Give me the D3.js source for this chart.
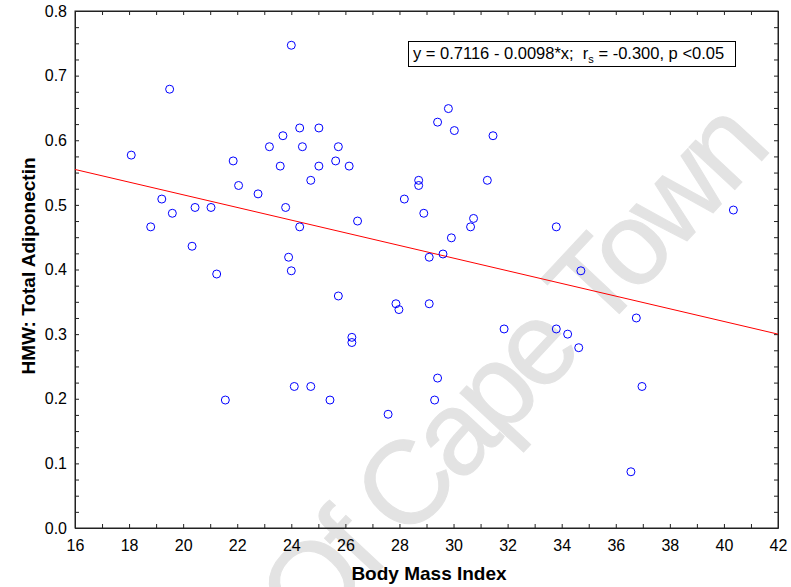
<!DOCTYPE html>
<html>
<head>
<meta charset="utf-8">
<script src="https://cdn.jsdelivr.net/npm/d3@7"></script>
<style>
  body { margin: 0; background: #fff; }
  text { font-family: "Liberation Sans", Arial, Helvetica, sans-serif; }
</style>
</head>
<body>
<div id="chart"></div>
<script>
// data
var bmi = [18.08, 18.80, 19.21, 19.50, 19.60, 20.33, 20.44, 21.03, 21.24, 21.56,
           21.85, 22.05, 22.77, 23.19, 23.59, 23.69, 23.79, 23.90, 24.00, 24.00,
           24.11, 24.31, 24.31, 24.41, 24.72, 24.72, 25.02, 25.02, 25.43, 25.64,
           25.74, 25.74, 26.14, 26.24, 26.24, 26.45, 27.58, 27.87, 27.98, 28.18,
           28.71, 28.71, 28.90, 29.10, 29.10, 29.30, 29.41, 29.41, 29.61, 29.81,
           29.92, 30.03, 30.63, 30.74, 31.25, 31.46, 31.87, 33.80, 33.80, 34.22,
           34.63, 34.71, 36.56, 36.76, 36.97, 40.35];
var hmw = [0.577, 0.466, 0.509, 0.679, 0.487, 0.436, 0.496, 0.496, 0.393, 0.198,
           0.568, 0.530, 0.517, 0.590, 0.560, 0.607, 0.496, 0.419, 0.747, 0.398,
           0.219, 0.619, 0.466, 0.590, 0.219, 0.538, 0.619, 0.560, 0.198, 0.568,
           0.590, 0.359, 0.560, 0.295, 0.287, 0.475, 0.176, 0.347, 0.338, 0.509,
           0.538, 0.530, 0.487, 0.419, 0.347, 0.198, 0.232, 0.628, 0.424, 0.649,
           0.449, 0.615, 0.466, 0.479, 0.538, 0.607, 0.308, 0.466, 0.308, 0.300,
           0.279, 0.398, 0.087, 0.325, 0.219, 0.492];

// fitted line y = a + b*x
var fitA = 0.7116;
var fitB = -0.0098;

var xTicks = [16, 18, 20, 22, 24, 26, 28, 30, 32, 34, 36, 38, 40, 42];
var yTicks = [0.0, 0.1, 0.2, 0.3, 0.4, 0.5, 0.6, 0.7, 0.8];

var W = 791, H = 587;
const margin = {top: 11, right: 13, bottom: 59, left: 75},
    width = W - margin.left - margin.right,
    height = H - margin.top - margin.bottom;

var svg = d3.select("#chart").append("svg")
    .attr("width", W)
    .attr("height", H);

// watermark
svg.append("text")
    .attr("transform", "translate(770,152) rotate(-47)")
    .attr("text-anchor", "end")
    .style("font-size", "118px")
    .style("letter-spacing", "-6px")
    .attr("fill", "#e3e3e3")
    .attr("stroke", "#e3e3e3")
    .attr("stroke-width", 1)
    .text("University Of Cape Town");

var g = svg.append("g")
    .attr("transform", "translate(" + margin.left + "," + margin.top + ")");

const x = d3.scaleLinear().domain([16, 42]).range([0, width]);
const y = d3.scaleLinear().domain([0, 0.8]).range([height, 0]);

var xMinor = d3.range(16, 42.5, 1);
var yMinor = d3.range(0, 0.8125, 0.025);

function fmtX(d) { return xTicks.indexOf(d) >= 0 ? d : ""; }
function fmtY(d) {
    var r = Math.round(d * 1000) / 1000;
    return yTicks.some(function (t) { return Math.abs(t - r) < 1e-6; }) ? d3.format(".1f")(r) : "";
}

// bottom axis
g.append("g")
    .attr("class", "xaxis")
    .attr("transform", `translate(0, ${height})`)
    .call(d3.axisBottom(x).tickValues(xMinor).tickFormat(fmtX)
        .tickSizeInner(-4).tickSizeOuter(0).tickPadding(12));

// top axis (ticks only)
g.append("g")
    .call(d3.axisTop(x).tickValues(xMinor).tickFormat("")
        .tickSizeInner(-4).tickSizeOuter(0));

// left axis
g.append("g")
    .attr("class", "yaxis")
    .call(d3.axisLeft(y).tickValues(yMinor).tickFormat(fmtY)
        .tickSizeInner(-4).tickSizeOuter(0).tickPadding(8));

// right axis (ticks only)
g.append("g")
    .attr("transform", `translate(${width}, 0)`)
    .call(d3.axisRight(y).tickValues(yMinor).tickFormat("")
        .tickSizeInner(-4).tickSizeOuter(0));

g.selectAll(".tick text")
    .style("font-size", "16px")
    .attr("fill", "#000");
g.selectAll(".tick line").attr("stroke", "#222");
g.selectAll(".domain").attr("stroke", "#222");

// frame
g.append("rect")
    .attr("width", width)
    .attr("height", height)
    .attr("fill", "none")
    .attr("stroke", "#222")
    .attr("stroke-width", 1);

// regression line
g.append("path")
    .datum(x.domain())
    .attr("d", d3.line()
        .x(function (d) { return x(d); })
        .y(function (d) { return y(fitA + fitB * d); }))
    .attr("fill", "none")
    .attr("stroke", "#ff0000")
    .attr("stroke-width", 1);

// points
g.selectAll("circle.pt")
    .data(bmi)
    .enter()
    .append("circle")
    .attr("class", "pt")
    .attr("cx", function (d) { return x(d); })
    .attr("cy", function (d, i) { return y(hmw[i]); })
    .attr("r", 4)
    .attr("fill", "none")
    .attr("stroke", "#0000ff")
    .attr("stroke-width", 1);

// equation box
svg.append("rect")
    .attr("x", 408.5)
    .attr("y", 41.5)
    .attr("width", 327)
    .attr("height", 25)
    .attr("fill", "#fff")
    .attr("stroke", "#000")
    .attr("stroke-width", 1);

var eq = svg.append("text")
    .attr("x", 413)
    .attr("y", 59)
    .style("font-size", "16.5px")
    .attr("fill", "#000")
    .attr("xml:space", "preserve");
eq.append("tspan").text("y = 0.7116 - 0.0098*x;  r");
eq.append("tspan").attr("dy", 4).style("font-size", "11px").text("s");
eq.append("tspan").attr("dy", -4).text(" = -0.300, p <0.05");

// axis titles
svg.append("text")
    .attr("x", 429)
    .attr("y", 580)
    .attr("text-anchor", "middle")
    .style("font-size", "19px")
    .style("font-weight", "bold")
    .text("Body Mass Index");

svg.append("text")
    .attr("transform", "translate(35,266) rotate(-90)")
    .attr("text-anchor", "middle")
    .style("font-size", "19px")
    .style("font-weight", "bold")
    .text("HMW: Total Adiponectin");
</script>
</body>
</html>
